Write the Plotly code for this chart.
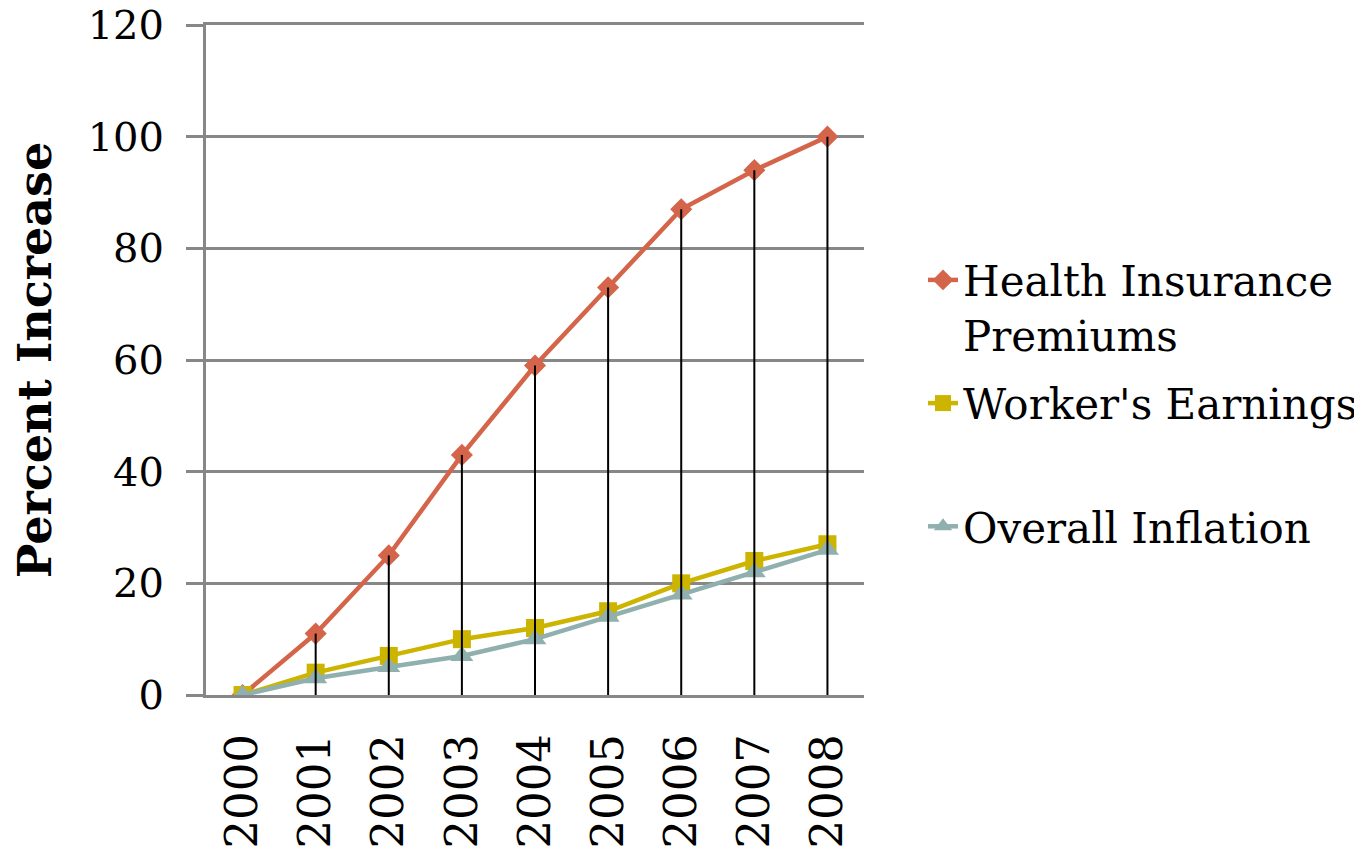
import plotly.graph_objects as go

years = ["2000", "2001", "2002", "2003", "2004", "2005", "2006", "2007", "2008"]
health = [0, 11, 25, 43, 59, 73, 87, 94, 100]
earnings = [0, 4, 7, 10, 12, 15, 20, 24, 27]
inflation = [0, 3, 5, 7, 10, 14, 18, 22, 26]
y_ticks = [0, 20, 40, 60, 80, 100, 120]

FONT = "DejaVu Serif"
C_HEALTH = "#D4654A"
C_EARN = "#CCB400"
C_INFL = "#8FB0AE"
GRID = "#878787"

fig = go.Figure()
fig.add_trace(go.Scatter(
    x=years, y=health, name="Health Insurance<br>Premiums", mode="lines+markers",
    line=dict(color=C_HEALTH, width=4.5), marker=dict(symbol="diamond", size=17, color=C_HEALTH),
    legendgroup="a"))
fig.add_trace(go.Scatter(
    x=years, y=earnings, name="Worker's Earnings<br> ", mode="lines+markers",
    line=dict(color=C_EARN, width=4.5), marker=dict(symbol="square", size=18, color=C_EARN),
    legendgroup="b"))
fig.add_trace(go.Scatter(
    x=years, y=inflation, name="Overall Inflation", mode="lines+markers",
    line=dict(color=C_INFL, width=4.5), marker=dict(symbol="triangle-up", size=20, color=C_INFL),
    legendgroup="c"))
# drop lines from health premiums to the axis
fig.add_trace(go.Scatter(
    x=years, y=health, mode="markers", marker=dict(size=1, opacity=0),
    error_y=dict(type="data", symmetric=False, array=[0] * len(health), arrayminus=health,
                 color="black", thickness=2, width=0),
    showlegend=False, hoverinfo="skip"))

fig.update_layout(
    width=1354, height=843,
    margin=dict(l=198, r=498, t=17, b=156, autoexpand=False),
    paper_bgcolor="white", plot_bgcolor="white",
    font=dict(family=FONT, color="black", size=42),
    showlegend=True,
    legend=dict(x=1.0897, y=0.67, xanchor="left", yanchor="top", valign="top",
                font=dict(family=FONT, size=42, color="black"),
                tracegroupgap=11, itemwidth=30, bgcolor="rgba(0,0,0,0)"),
)
fig.update_xaxes(
    type="category", range=[-0.5, 8.5], tickangle=-90, showgrid=False, automargin=False,
    showline=True, mirror=True, linecolor=GRID, linewidth=3,
    ticks="", tickfont=dict(family=FONT, size=45), zeroline=False,
    ticklabelstandoff=18)
fig.update_yaxes(
    range=[0, 120], tickvals=y_ticks, showgrid=True, gridcolor=GRID, gridwidth=3,
    showline=True, linecolor=GRID, linewidth=3, ticks="outside", ticklen=17,
    tickcolor=GRID, tickwidth=3, zeroline=False, automargin=False,
    tickfont=dict(family=FONT, size=40), ticklabelstandoff=14, ticklabeloverflow="allow",
    title=dict(text="<b>Percent Increase</b>", font=dict(family=FONT, size=46), standoff=26))

fig.write_html("out.html")
